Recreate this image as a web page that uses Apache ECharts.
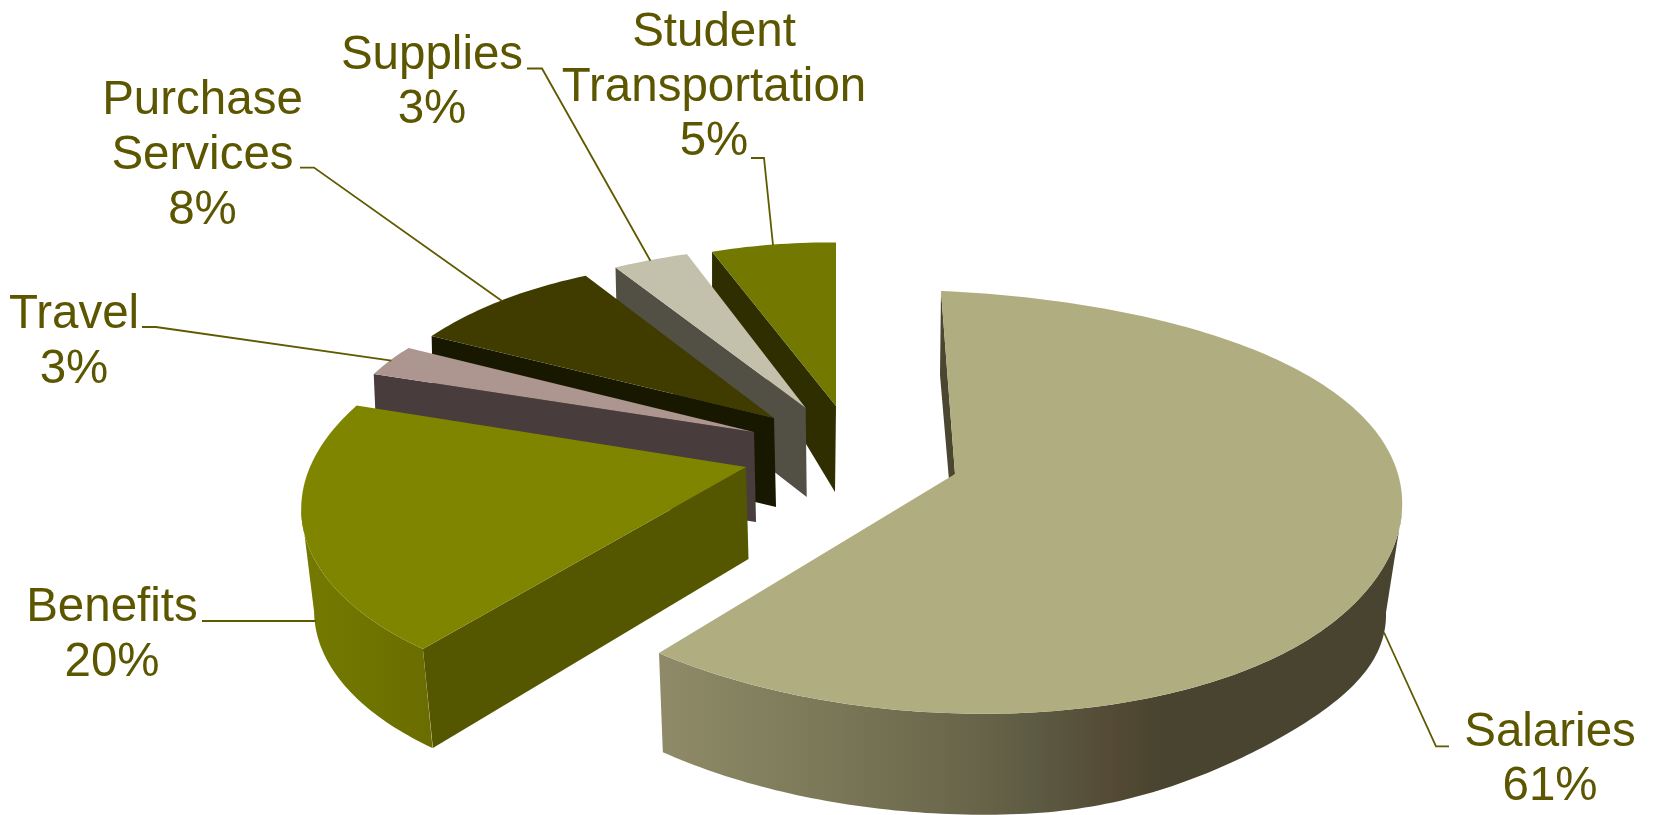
<!DOCTYPE html>
<html><head><meta charset="utf-8">
<style>html,body{margin:0;padding:0;background:#fff}#c{width:1653px;height:815px}</style>
<script src="https://cdn.jsdelivr.net/npm/echarts@6/dist/echarts.min.js"></script>
</head><body><div id="c"></div>
<script>
const categories = ['Salaries','Benefits','Travel','Purchase\nServices','Supplies','Student\nTransportation'];
const values = [61,20,3,8,3,5];

const topColors = ['#b0ad80','#808500','#ad9590','#403c00','#c3c1ab','#727800'];
const cutColors = ['#4a4630','#545600','#483c3c','#181800','#524f45','#2e2e00'];
const textColor = '#5c5600';
const lineColor = '#5f5a00';

// Perspective of each exploded slice: ellipse basis for top rim and bottom rim,
// with an optional bulge correcting the egg shape that perspective gives the big slice
const views = [
 {c:[943,502],u:[448,18],v:[-2,-211],apex:[955,474],bc:[942,594.5],bu:[444,18],bv:[-5,-219.5],cornerDrop:[4,99],apexDrop:[-6,6],stripDrop:[-1,84],wall:[90,null],
  bulge:{from:0,to:130,amp:[16,-11]},bottomBulge:{from:90,to:170,amp:[-8,-10]}},
 {c:[749.7,493.5],u:[445,11],v:[56,-211],apex:[746,467],bc:[742,596.5],bu:[425,10],bv:[50,-205],cornerDrop:[10,99],apexDrop:[2.5,92],wall:[null,263]},
 {c:[622.2,508.1],u:[291,69],v:[60,-190],apex:[754,432],cornerDrop:[4,92],apexDrop:[2,90]},
 {c:[724,476.1],u:[378,32],v:[50,-211],apex:[774,418],cornerDrop:[2,89],apexDrop:[2,89]},
 {c:[771.7,459.2],u:[397,14],v:[40,-211],apex:[805.7,408],cornerDrop:[2,83],apexDrop:[1,89]},
 {c:[836,453.5],u:[401,3.5],v:[0,-211],apex:[836,406],cornerDrop:[0,36.6],apexDrop:[-1,86]}
];
const wallStops = [
 [[0,'#8f8b68'],[0.24,'#797757'],[0.42,'#69654a'],[0.51,'#5c5a42'],[0.61,'#544a35'],[0.68,'#48442f'],[1,'#48442f']],
 [[0,'#747a00'],[0.5,'#6f7400'],[1,'#6a6c00']]
];
const labelPos = [[1550,760],[112,635.5],[74,342.5],[202.5,156],[432,83],[714,87.5]];
const leaders = [
 [[1449,746.4],[1436,746.4],[1384,632.5]],
 [[202,621],[316,621]],
 [[142,327],[156,327],[391.4,360.7]],
 [[300,167.6],[314,167.6],[502,301]],
 [[527,68.5],[542,68.5],[650.4,260.7]],
 [[751,158],[764,158],[773,245]]
];

const total = values.reduce((a,b)=>a+b,0);
const starts = []; values.reduce((acc,x,i)=>{starts[i]=acc;return acc+x;},0);

function rim(c,u,v,t,b){
  const r=t*Math.PI/180;
  let x=c[0]+u[0]*Math.sin(r)+v[0]*Math.cos(r), y=c[1]+u[1]*Math.sin(r)+v[1]*Math.cos(r);
  if(b&&t>b.from&&t<b.to){const s=Math.sin(Math.PI*(t-b.from)/(b.to-b.from));x+=b.amp[0]*s*s;y+=b.amp[1]*s*s;}
  return [x,y];
}
function arc(c,u,v,a,b,bl){const n=Math.max(4,Math.ceil(Math.abs(b-a)));const p=[];for(let k=0;k<=n;k++)p.push(rim(c,u,v,a+(b-a)*k/n,bl));return p;}
function add(p,d){return [p[0]+d[0],p[1]+d[1]];}

function renderItem(params,api){
  const i=api.value(0), val=api.value(1);
  const a0=starts[i]/total*360, a1=(starts[i]+val)/total*360;
  const w=views[i], kids=[];
  const corner=rim(w.c,w.u,w.v,a0);
  // cut wall at the slice's first edge
  kids.push({type:'polygon',shape:{points:[w.apex,corner,add(corner,w.stripDrop||w.cornerDrop),add(w.apex,w.apexDrop)]},
    style:{fill:cutColors[i]}});
  // curved outer wall
  if(w.wall){
    const ta=w.wall[0]===null?a0:w.wall[0], tb=w.wall[1]===null?a1:w.wall[1];
    const pts=arc(w.c,w.u,w.v,ta,tb,w.bulge).concat(arc(w.bc,w.bu,w.bv,tb,ta,w.bottomBulge));
    kids.push({type:'polygon',shape:{points:pts},
      style:{fill:new echarts.graphic.LinearGradient(0,0,1,0,wallStops[i].map(s=>({offset:s[0],color:s[1]})))}});
  }
  // top face
  kids.push({type:'polygon',shape:{points:[w.apex].concat(arc(w.c,w.u,w.v,a0,a1,w.bulge))},style:{fill:topColors[i]}});
  // leader
  kids.push({type:'polyline',shape:{points:leaders[i]},style:{stroke:lineColor,lineWidth:1.8,fill:null}});
  // label
  kids.push({type:'text',style:{text:categories[i]+'\n'+val+'%',x:labelPos[i][0],y:labelPos[i][1],
    fill:textColor,font:'47.5px "Liberation Sans", Arial, sans-serif',lineHeight:54.7,align:'center',verticalAlign:'middle'}});
  return {type:'group',children:kids};
}

const seriesData = values.map((x,i)=>[i,x]).reverse();
const chart = echarts.init(document.getElementById('c'));
chart.setOption({
  animation:false,
  backgroundColor:'#ffffff',
  series:[{type:'custom',coordinateSystem:'none',renderItem,data:seriesData,silent:true}]
});
</script></body></html>
